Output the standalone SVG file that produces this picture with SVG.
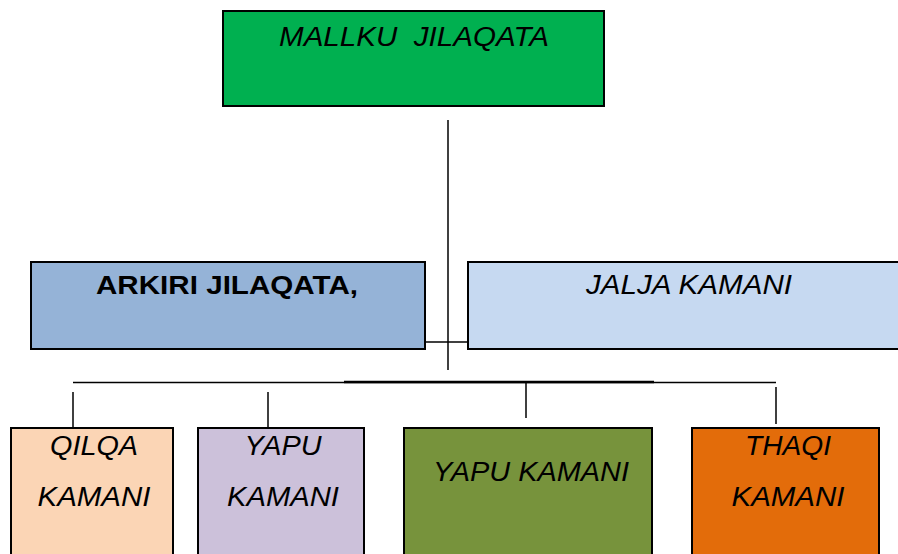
<svg xmlns="http://www.w3.org/2000/svg" width="898" height="554" viewBox="0 0 898 554">
<style>
.box{stroke:#000;stroke-width:2}
.t{font-family:"Liberation Sans",Arial,sans-serif;font-size:27px;font-style:italic;fill:#000;text-anchor:middle}
.b{font-family:"Liberation Sans",Arial,sans-serif;font-size:25px;font-weight:bold;fill:#000;text-anchor:middle}
.ln{stroke:#000;stroke-width:1.5;fill:none}
</style>
<rect width="898" height="554" fill="#fff"/>
<g id="connectors">
<line class="ln" x1="448" y1="120" x2="448" y2="370"/>
<line class="ln" x1="425" y1="342" x2="476" y2="342"/>
<line class="ln" x1="73" y1="382.5" x2="776" y2="382.5"/>
<line x1="344" y1="382" x2="654" y2="382" stroke="#000" stroke-width="2.5"/>
<line class="ln" x1="73" y1="392" x2="73" y2="428"/>
<line class="ln" x1="268" y1="392" x2="268" y2="428"/>
<line class="ln" x1="526" y1="383" x2="526" y2="418"/>
<line class="ln" x1="776" y1="387" x2="776" y2="424"/>
</g>
<g id="mallku">
<rect class="box" x="223" y="11" width="381" height="95" fill="#00B050"/>
<text class="t" x="414" y="46" textLength="270" lengthAdjust="spacingAndGlyphs" xml:space="preserve">MALLKU  JILAQATA</text>
</g>
<g id="arkiri">
<rect class="box" x="31" y="262" width="394" height="87" fill="#95B3D7"/>
<text class="b" x="227" y="294" textLength="262" lengthAdjust="spacingAndGlyphs">ARKIRI JILAQATA,</text>
</g>
<g id="jalja">
<rect class="box" x="468" y="262" width="440" height="87" fill="#C6D9F1"/>
<text class="t" x="689" y="294" textLength="206" lengthAdjust="spacingAndGlyphs">JALJA KAMANI</text>
</g>
<g id="qilqa">
<rect class="box" x="11" y="428" width="162" height="140" fill="#FBD5B5"/>
<text class="t" x="94" y="455" textLength="88" lengthAdjust="spacingAndGlyphs">QILQA</text>
<text class="t" x="94" y="506" textLength="113" lengthAdjust="spacingAndGlyphs">KAMANI</text>
</g>
<g id="yapu">
<rect class="box" x="198" y="428" width="166" height="140" fill="#CCC1DA"/>
<text class="t" x="283" y="455" textLength="77" lengthAdjust="spacingAndGlyphs">YAPU</text>
<text class="t" x="283" y="506" textLength="112" lengthAdjust="spacingAndGlyphs">KAMANI</text>
</g>
<g id="yapukamani">
<rect class="box" x="404" y="428" width="248" height="140" fill="#77933C"/>
<text class="t" x="531" y="481" textLength="196" lengthAdjust="spacingAndGlyphs">YAPU KAMANI</text>
</g>
<g id="thaqi">
<rect class="box" x="692" y="428" width="187" height="140" fill="#E36C0A"/>
<text class="t" x="788" y="455" textLength="86" lengthAdjust="spacingAndGlyphs">THAQI</text>
<text class="t" x="788" y="506" textLength="113" lengthAdjust="spacingAndGlyphs">KAMANI</text>
</g>
</svg>
